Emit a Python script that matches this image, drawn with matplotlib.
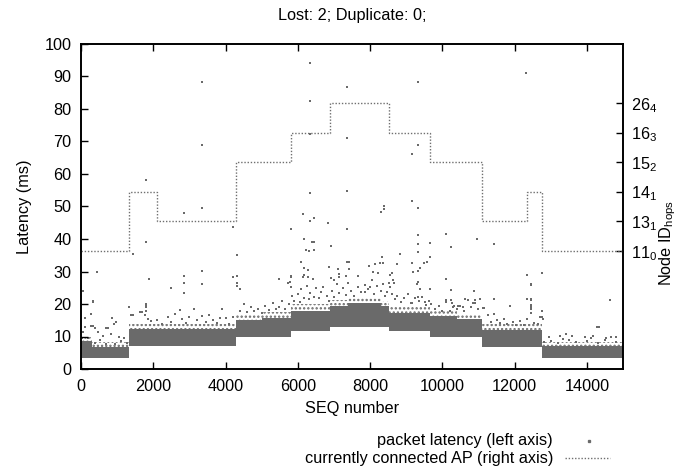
import matplotlib
matplotlib.use("Agg")
import matplotlib.pyplot as plt
from matplotlib.lines import Line2D

plt.rcParams['font.family'] = ['Liberation Sans', 'DejaVu Sans']
plt.rcParams['mathtext.default'] = 'regular'
plt.rcParams['hatch.linewidth'] = 1.1

# --- access point the node is attached to (step function over SEQ) ---
ap_seq = [0, 1320, 2095, 4300, 5800, 6900, 8525, 9660, 11100, 12330, 12750, 15000]
ap_level = [0, 2, 1, 3, 4, 5, 4, 3, 1, 2, 0, 0]
ap_labels = ['11$_0$', '13$_1$', '14$_1$', '15$_2$', '16$_3$', '26$_4$']

# --- latency cloud per SEQ range (ms): solid core and thinner upper fringe ---
band_seq = [0, 300, 1320, 4300, 5000, 5800, 6900, 7400, 8300, 8525, 9660, 10400, 11100, 12750, 15000]
band_low = [3.5, 3.5, 7.1, 9.9, 9.9, 11.6, 12.8, 12.8, 12.8, 11.6, 9.9, 9.9, 6.9, 3.5, 3.5]
band_high = [8.5, 6.8, 12.3, 15.0, 15.8, 17.8, 19.3, 20.2, 19.3, 17.3, 16.3, 15.3, 12.0, 7.0, 7.0]
fringe_high = [10.0, 8.3, 14.0, 16.8, 17.6, 20.0, 21.2, 21.8, 20.8, 19.2, 18.0, 17.0, 13.8, 8.2, 8.2]

# --- individual packets outside the dense cloud ---
pkt_seq = [
    3340, 3340, 1799, 2851, 3340, 4198,
    6338, 7362, 9327, 6338, 6338, 7362, 9327, 9170, 6338, 7362, 9170, 9327,
    8386, 8386, 8312, 6153, 6338, 6457, 6827, 5812, 7362,
    12316, 11430, 12335, 12767, 12446, 14640, 12335, 12446, 11430, 11873,
    452, 1799, 1430, 1891, 2851, 2851, 2851, 2491, 3340, 3340, 4309,
    4309, 4309, 4309, 4216, 4400, 323, 46, 120, 268, 850, 1799, 1799, 1337, 1633,
    6181, 6457, 6240, 6457, 6910, 6089, 6172, 5812, 5812, 5480, 6864,
    7362, 7426, 7122, 7979, 8137, 8275, 8367, 8330, 8828, 8745,
    9327, 9327, 9327, 9170, 9370, 9327, 9501, 9567, 9668, 9668,
    10110, 10249, 10110, 10249, 10968, 10877, 11430, 11873,
    9327, 9668, 8552, 8220, 8045, 7658, 7334, 7131, 7131, 6920, 6990,
    6172, 6135, 5784, 6412,
    341, 341, 1808, 3119, 2731, 1808, 1808, 1700, 1760, 1380, 1440, 101,
    3911, 4520, 5740, 5810, 6290, 6290, 6300, 6390, 7420,
    8080, 8000, 7850, 8360, 8640, 8600, 8650, 8560, 8520,
    9290, 9195, 9120, 9380, 9330, 9510, 10330, 10090, 10580,
    10230, 10420, 10630, 10270, 10860, 10910, 11120, 12450,
    12454, 12454, 12454, 12454, 12454, 12770, 12770, 12780,
    11150, 11250, 11350, 11430, 11500, 11600, 11700, 11800, 11950, 12050, 12150, 12250,
    12350, 12550, 12650, 12700,
    12960, 13270, 13350, 13430, 13580, 13950, 14110, 14280, 14170, 14340, 14540, 14680, 14820,
    12800, 13000, 13200, 13500, 13700, 14000, 14300, 14500, 14800,
    60, 120, 200, 268, 341, 396, 470, 520, 600, 680, 760, 820, 900, 978, 1050, 1120,
    1200, 1280, 30, 150, 400, 700, 950,
    1850, 1950, 2100, 2250, 2400, 2500, 2600, 2800, 2900, 3000, 3200, 3350, 3450,
    3550, 3650, 3750, 3850, 4000, 4100, 4200,
    4400, 4600, 4700, 4800, 4900, 5000, 5100, 5200, 5300, 5400, 5489, 5550, 5650, 5750,
    5850, 5900, 6000, 6050, 6100, 6181, 6250, 6300, 6350, 6450, 6500, 6600, 6650,
    6700, 6800, 6850,
    6950, 7000, 7080, 7150, 7250, 7334, 7400, 7480, 7560, 7658, 7750, 7850, 7950,
    8100, 8200, 8300, 8400, 8480,
    8600, 8680, 8745, 8850, 8950, 9050, 9150, 9250, 9350, 9450, 9550, 9620,
    9700, 9800, 9900, 10000, 10100, 10200, 10300, 10400, 10500, 10600, 10700, 10800,
    10900, 11000, 11050,
]
pkt_lat = [
    88.2, 68.9, 58.2, 48.1, 49.6, 43.8,
    94.1, 86.7, 88.3, 82.4, 72.3, 71.2, 69.0, 66.3, 54.3, 54.9, 51.6, 49.6,
    50.2, 49.2, 48.2, 47.8, 45.6, 46.6, 44.8, 43.0, 43.2,
    91.0, 38.5, 28.9, 29.4, 25.8, 21.2, 21.6, 21.5, 21.5, 19.5,
    29.7, 39.0, 35.4, 27.6, 28.6, 26.6, 23.3, 24.8, 30.3, 26.2, 35.1,
    28.6, 26.6, 25.5, 28.2, 24.5, 20.7, 24.0, 15.6, 16.9, 15.6, 19.4, 20.0, 19.2, 17.6,
    39.9, 39.1, 36.5, 36.5, 37.9, 32.9, 31.0, 28.7, 28.4, 27.7, 31.5,
    32.8, 32.8, 30.8, 31.7, 32.2, 32.7, 32.7, 34.6, 35.3, 32.2,
    41.2, 38.4, 35.9, 32.5, 31.0, 30.3, 32.5, 33.0, 38.9, 34.4,
    41.4, 37.6, 27.7, 24.3, 40.0, 23.9, 21.6, 19.4,
    26.9, 24.5, 28.9, 29.6, 27.4, 28.7, 28.6, 28.4, 29.2, 28.1, 27.4,
    29.0, 28.2, 26.9, 27.8,
    21.0, 20.5, 19.7, 18.4, 18.2, 19.0, 17.8, 17.5, 16.6, 16.5, 16.6, 15.6,
    18.4, 20.0, 26.6, 25.3, 30.5, 28.4, 36.4, 39.2, 30.7,
    29.9, 25.3, 23.8, 26.1, 27.4, 29.4, 26.4, 25.3, 26.6,
    26.1, 29.9, 20.2, 24.5, 22.1, 20.7, 19.4, 21.2, 19.2,
    21.2, 19.4, 21.4, 20.2, 20.4, 21.2, 18.7, 21.2,
    26.1, 19.7, 19.0, 18.4, 17.1, 17.9, 16.1, 15.3,
    18.7, 16.7, 14.5, 16.8, 15.1, 14.2, 15.3, 13.8, 14.5, 13.6, 14.8, 13.5,
    15.5, 14.2, 13.8, 16.1,
    9.9, 10.3, 9.2, 10.7, 10.3, 9.7, 9.4, 12.8, 10.3, 12.8, 9.4, 9.7, 9.9,
    8.2, 8.6, 8.0, 8.8, 8.3, 8.5, 8.1, 8.8, 8.4,
    11.5, 12.8, 9.5, 13.2, 13.2, 12.7, 11.5, 9.0, 10.2, 12.7, 12.7, 10.8, 13.8, 14.5, 10.0, 8.5,
    9.5, 8.0, 9.5, 8.2, 8.0, 7.8, 7.8,
    15.5, 14.8, 15.2, 14.0, 16.0, 14.6, 17.0, 15.5, 14.2, 16.0, 15.0, 16.3, 14.5,
    16.5, 15.0, 14.2, 15.8, 15.7, 14.0, 16.0,
    18.0, 17.5, 19.0, 17.8, 18.6, 17.2, 19.4, 18.2, 20.4, 18.5, 19.0, 21.0, 18.5, 20.0,
    22.5, 21.0, 23.2, 20.5, 24.5, 22.0, 25.5, 21.5, 23.5, 22.2, 24.8, 21.8, 23.8,
    25.2, 22.5, 20.8,
    24.0, 22.2, 26.2, 23.5, 25.0, 22.8, 26.5, 24.0, 22.5, 25.3, 23.6, 26.0, 24.5,
    23.0, 25.5, 24.0, 22.5, 23.8,
    23.0, 21.5, 22.5, 20.5, 21.8, 23.0, 20.2, 22.0, 20.8, 22.1, 19.8, 21.0,
    20.0, 18.5, 19.5, 18.0, 20.7, 17.8, 19.2, 18.5, 19.4, 18.0, 21.2, 19.0,
    20.2, 18.5, 21.4,
]

x_ticks = [0, 2000, 4000, 6000, 8000, 10000, 12000, 14000]
y_ticks = [0, 10, 20, 30, 40, 50, 60, 70, 80, 90, 100]

GRAY = '#6a6a6a'
FS = 11.7

fig = plt.figure(figsize=(6.82, 4.67), dpi=100)
ax = fig.add_axes([81 / 682, 1 - 369 / 467, 542 / 682, 325 / 467])

# dense core of the latency cloud
ax.fill_between(band_seq, band_low, band_high, step='post', color=GRAY, lw=0)
# thinner speckled fringe just above the core
ax.fill_between(band_seq, band_high, fringe_high, step='post', facecolor='none',
                edgecolor=GRAY, hatch='....', lw=0)
# sparse packets
ax.scatter(pkt_seq, pkt_lat, s=3, marker='s', color=GRAY, linewidths=0)

ax.set_xlim(0, 15000)
ax.set_ylim(0, 100)
ax.set_xticks(x_ticks)
ax.set_yticks(y_ticks)
ax.tick_params(axis='x', direction='in', length=5, width=1, top=True, pad=7, labelsize=FS)
ax.tick_params(axis='y', direction='in', length=5, width=1, right=False, pad=7, labelsize=FS)
for s in ax.spines.values():
    s.set_linewidth(1.2)
ax.set_xlabel('SEQ number', fontsize=FS, labelpad=5)
ax.set_ylabel('Latency (ms)', fontsize=FS, labelpad=9)
ax.set_title('Lost: 2; Duplicate: 0;', fontsize=FS, pad=17)

# right axis: AP node ID with hop count
ax2 = ax.twinx()
ax2.step(ap_seq, ap_level, where='post', color='#6f6f6f', lw=1.0,
         linestyle=(0, (1, 1.3)))
ax2.set_ylim(-4, 7)
ax2.set_yticks(range(len(ap_labels)))
ax2.set_yticklabels(ap_labels)
ax2.tick_params(axis='y', direction='in', length=5, width=1, pad=6, labelsize=FS)
ax2.set_ylabel('Node ID$_{hops}$', fontsize=FS, rotation=90, va='center')
ax2.yaxis.set_label_coords((668 - 81) / 542, (369 - 243) / 325)
for s in ax2.spines.values():
    s.set_linewidth(1.2)

# key below the plot
fig.text(553 / 682, 1 - 441 / 467, 'packet latency (left axis)', ha='right', va='center', fontsize=FS)
fig.text(553 / 682, 1 - 458 / 467, 'currently connected AP (right axis)', ha='right', va='center', fontsize=FS)
fig.add_artist(Line2D([589 / 682], [1 - 441 / 467], marker='s', markersize=1.4,
                      color=GRAY, linestyle='none', transform=fig.transFigure))
fig.add_artist(Line2D([565 / 682, 610 / 682], [1 - 458 / 467] * 2, color='#6f6f6f', lw=1.0,
                      linestyle=(0, (1, 1.3)), transform=fig.transFigure))

fig.savefig('out.png', dpi=100)
